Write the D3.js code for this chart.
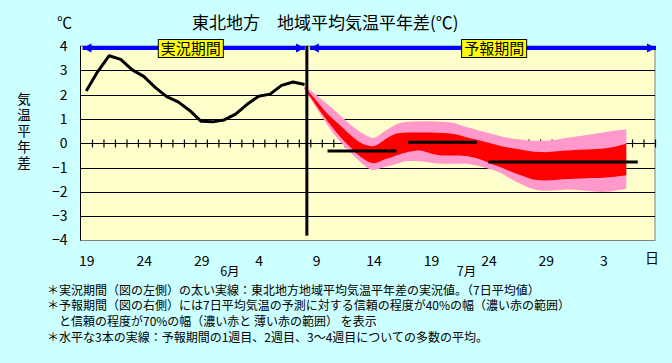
<!DOCTYPE html>
<html>
<head>
<meta charset="utf-8">
<title>東北地方 地域平均気温平年差</title>
<script src="https://d3js.org/d3.v7.min.js"></script>
<style>
  body { margin: 0; background-color: #ccffff; }
  svg { display: block; font-family: "Noto Sans CJK JP", sans-serif; }
  .grid line { stroke: #000; shape-rendering: crispEdges; }
</style>
</head>
<body>
<div id="chart"></div>
<script>
// day index 0 = 6/19, one value per day (7-day mean)
var observed = [2.15, 2.95, 3.6, 3.45, 3.02, 2.75, 2.3, 1.92, 1.7, 1.35,
                0.9, 0.88, 0.96, 1.2, 1.6, 1.93, 2.02, 2.38, 2.52, 2.42];

// forecast band, day index 19 .. 47
var forecastStart = 19;
var pinkUpper = [2.35, 2.0, 1.6, 1.19, 0.76, 0.42, 0.22, 0.5, 0.78, 0.88,
                 0.9, 0.91, 0.88, 0.83, 0.68, 0.55, 0.42, 0.3, 0.2, 0.14,
                 0.1, 0.1, 0.15, 0.24, 0.3, 0.37, 0.44, 0.52, 0.58];
var redUpper  = [2.3, 1.77, 1.21, 0.78, 0.34, -0.01, -0.12, 0.15, 0.4, 0.44,
                 0.44, 0.44, 0.42, 0.38, 0.26, 0.14, 0.02, -0.1, -0.2, -0.28,
                 -0.35, -0.37, -0.33, -0.3, -0.27, -0.25, -0.22, -0.14, -0.02];
var redLower  = [2.25, 1.56, 0.9, 0.32, -0.17, -0.6, -0.82, -0.66, -0.5, -0.36,
                 -0.3, -0.42, -0.5, -0.5, -0.52, -0.62, -0.8, -0.98, -1.17, -1.35,
                 -1.5, -1.53, -1.5, -1.47, -1.45, -1.43, -1.42, -1.38, -1.32];
var pinkLower = [2.2, 1.47, 0.74, 0.12, -0.37, -0.83, -1.1, -0.97, -0.85, -0.73,
                 -0.74, -0.8, -0.84, -0.84, -0.84, -0.92, -1.05, -1.2, -1.48, -1.72,
                 -1.9, -1.95, -1.93, -1.9, -1.93, -1.97, -2.0, -1.95, -1.87];

// weekly means (1週目, 2週目, 3~4週目)
var weekFrom = [21, 28, 35];
var weekTo   = [27, 34, 48];
var weekMean = [-0.32, 0.04, -0.77];

var tickDays   = [0, 5, 10, 15, 20, 25, 30, 35, 40, 45];
var tickLabels = ["19", "24", "29", "4", "9", "14", "19", "24", "29", "3"];
var monthLabels = ["6月", "7月"];
var monthPos    = [12.5, 33.1];
var yTicks = [4, 3, 2, 1, 0, -1, -2, -3, -4];
var splitDay = 19.2;
var periodLabels = ["実況期間", "予報期間"];
var periodLabelPos = [9.1, 35.5];

var notes = [
  "＊実況期間（図の左側）の太い実線：東北地方地域平均気温平年差の実況値。（7日平均値）",
  "＊予報期間（図の右側）には7日平均気温の予測に対する信頼の程度が40%の幅（濃い赤の範囲）",
  "　と信頼の程度が70%の幅（濃い赤と 薄い赤の範囲） を表示",
  "＊水平な3本の実線：予報期間の1週目、2週目、3～4週目についての多数の平均。"
];

var W = 672, H = 363;
var svg = d3.select("#chart").append("svg").attr("width", W).attr("height", H);

var x = d3.scaleLinear().domain([-0.5, 49.5]).range([80.5, 655]);
var y = d3.scaleLinear().domain([-4, 4]).range([240.5, 46]);

// plot background
svg.append("rect")
  .attr("x", x(-0.5)).attr("y", y(4))
  .attr("width", x(49.5) - x(-0.5)).attr("height", y(-4) - y(4))
  .attr("fill", "#ffffcc").attr("stroke", "#808080");

// horizontal grid
svg.append("g").attr("class", "grid")
  .selectAll("line").data(yTicks.filter(function (d) { return d < 4 && d > -4; }))
  .enter().append("line")
  .attr("x1", x(-0.5)).attr("x2", x(49.5))
  .attr("y1", function (d) { return Math.round(y(d)) + 0.5; })
  .attr("y2", function (d) { return Math.round(y(d)) + 0.5; });

// zero-line day ticks
var zeroY = Math.round(y(0)) + 0.5;
var tickG = svg.append("g")
  .attr("transform", "translate(0," + (zeroY - 4) + ")")
  .call(d3.axisBottom(x).tickValues(d3.range(0.5, 50, 1)).tickSize(8).tickFormat(""));
tickG.select(".domain").remove();
tickG.selectAll("line").attr("stroke", "#000").attr("stroke-width", 1.2);

// y axis labels
var yAxis = svg.append("g")
  .attr("transform", "translate(" + x(-0.5) + ",0)")
  .call(d3.axisLeft(y).tickValues(yTicks).tickSize(0).tickPadding(13));
yAxis.select(".domain").remove();
yAxis.selectAll("text")
  .attr("font-family", "'Noto Sans CJK JP', sans-serif")
  .attr("font-size", 14).attr("fill", "#000");

// x axis labels
var xAxis = svg.append("g")
  .attr("transform", "translate(0,256)")
  .call(d3.axisBottom(x).tickValues(tickDays)
    .tickFormat(function (d, i) { return tickLabels[i]; }).tickSize(0).tickPadding(0));
xAxis.select(".domain").remove();
xAxis.selectAll("text")
  .attr("font-family", "'Noto Sans CJK JP', sans-serif")
  .attr("font-size", 14).attr("fill", "#000");

svg.selectAll(".month").data(monthLabels).enter().append("text")
  .attr("class", "month")
  .attr("x", function (d, i) { return x(monthPos[i]); })
  .attr("y", 276)
  .attr("text-anchor", "middle").attr("font-size", 12.5)
  .text(function (d) { return d; });

svg.append("text").attr("x", 652).attr("y", 263)
  .attr("text-anchor", "middle").attr("font-size", 14).text("日");

// forecast bands
var fIdx = pinkUpper.map(function (d, i) { return forecastStart + i; });
function band(upper, lower) {
  return d3.area()
    .curve(d3.curveMonotoneX)
    .x(function (d, i) { return x(fIdx[i]); })
    .y0(function (d, i) { return y(lower[i]); })
    .y1(function (d, i) { return y(upper[i]); })(upper);
}
svg.append("path").attr("d", band(pinkUpper, pinkLower)).attr("fill", "#ff99cc");
svg.append("path").attr("d", band(redUpper, redLower)).attr("fill", "#ff0000");

// observed line
svg.append("path")
  .datum(observed)
  .attr("fill", "none").attr("stroke", "#000").attr("stroke-width", 3)
  .attr("stroke-linejoin", "round")
  .attr("d", d3.line()
    .x(function (d, i) { return x(i); })
    .y(function (d) { return y(d); }));

// split line
svg.append("line")
  .attr("x1", x(splitDay)).attr("x2", x(splitDay))
  .attr("y1", y(4)).attr("y2", y(-3.8))
  .attr("stroke", "#000").attr("stroke-width", 3);

// weekly means
svg.selectAll(".week").data(weekMean).enter().append("line")
  .attr("class", "week")
  .attr("x1", function (d, i) { return x(weekFrom[i]); })
  .attr("x2", function (d, i) { return x(weekTo[i]); })
  .attr("y1", function (d) { return y(d); })
  .attr("y2", function (d) { return y(d); })
  .attr("stroke", "#000").attr("stroke-width", 3);

// period arrows
var defs = svg.append("defs");
defs.append("marker")
  .attr("id", "arrow").attr("viewBox", "0 0 10 10")
  .attr("refX", 10).attr("refY", 5)
  .attr("markerUnits", "userSpaceOnUse")
  .attr("markerWidth", 9).attr("markerHeight", 10)
  .attr("orient", "auto-start-reverse")
  .append("path").attr("d", "M0,0L10,5L0,10Z").attr("fill", "#0000ff");

var arrowY = 48;
var arrows = [[x(-0.5) + 2, x(splitDay) - 2], [x(splitDay) + 3, x(49.5) + 1]];
svg.selectAll(".arrow").data(arrows).enter().append("line")
  .attr("class", "arrow")
  .attr("x1", function (d) { return d[0]; })
  .attr("x2", function (d) { return d[1]; })
  .attr("y1", arrowY).attr("y2", arrowY)
  .attr("stroke", "#0000ff").attr("stroke-width", 4)
  .attr("marker-start", "url(#arrow)").attr("marker-end", "url(#arrow)");

var boxes = svg.selectAll(".plabel").data(periodLabels).enter().append("g")
  .attr("class", "plabel")
  .attr("transform", function (d, i) { return "translate(" + x(periodLabelPos[i]) + ",48)"; });
boxes.append("rect")
  .attr("x", -32.5).attr("y", -8.5).attr("width", 65).attr("height", 18)
  .attr("fill", "#ffff00").attr("stroke", "#000");
boxes.append("text")
  .attr("text-anchor", "middle").attr("y", 5.5).attr("font-size", 15)
  .text(function (d) { return d; });

// left axis line
svg.append("line").attr("x1", 80.5).attr("x2", 80.5).attr("y1", y(4)).attr("y2", y(-4))
  .attr("stroke", "#000");

// titles
svg.append("text").attr("x", 192).attr("y", 29).attr("font-size", 17)
  .text("東北地方　地域平均気温平年差(℃)");
svg.append("text").attr("x", 57).attr("y", 28).attr("font-size", 15).text("℃");

// vertical y-axis title
svg.append("text")
  .attr("x", 24).attr("y", 92)
  .attr("writing-mode", "vertical-rl")
  .attr("font-size", 13.5).attr("letter-spacing", 2.5)
  .text("気温平年差");

// notes
svg.selectAll(".note").data(notes).enter().append("text")
  .attr("class", "note")
  .attr("x", 47).attr("y", function (d, i) { return 294.5 + i * 15.7; })
  .attr("font-size", 12)
  .text(function (d) { return d; });
</script>
</body>
</html>
